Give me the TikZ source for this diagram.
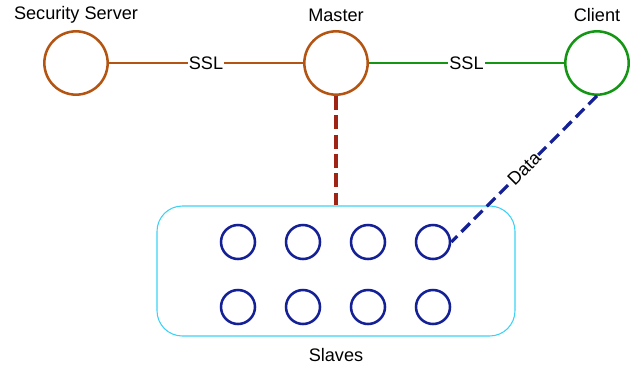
\documentclass[tikz,border=0pt]{standalone}
\usepackage{fontspec}
\setmainfont{Liberation Sans}
\definecolor{brn}{RGB}{180,84,18}
\definecolor{grn}{RGB}{20,150,20}
\definecolor{drd}{RGB}{160,36,22}
\definecolor{nvy}{RGB}{20,32,150}
\definecolor{cyn}{RGB}{60,210,245}
\tikzset{
  big/.style={circle,draw,line width=1.9pt,minimum size=47.5pt,inner sep=0pt},
  small/.style={circle,draw=nvy,line width=1.9pt,minimum size=25.5pt,inner sep=0pt},
  lbl/.style={font=\fontsize{13.6pt}{16pt}\selectfont,inner sep=1pt},
  conn/.style={line width=1pt},
  dsh/.style={line width=2.4pt,dash pattern=on 10.5pt off 4pt}
}
\begin{document}
\begin{tikzpicture}[x=0.75pt,y=-0.75pt]
\useasboundingbox (0,0) rectangle (635,368);
\node[big,draw=brn] (ss) at (76,63) {};
\node[big,draw=brn] (ms) at (336,63) {};
\node[big,draw=grn] (cl) at (597,63) {};
\node[lbl] (tss) at (76,15) {Security Server};
\node[lbl] (tms) at (336,15) {Master};
\node[lbl] (tcl) at (597,15) {Client};
\node[draw=cyn,line width=0.8pt,rounded corners=19pt,minimum width=268.5pt,minimum height=97.5pt] (box) at (336,271) {};
\node[lbl] (tsl) at (336,355) {Slaves};
\foreach \i/\x in {1/238,2/303,3/368,4/433}{
  \node[small] (a\i) at (\x,242) {};
  \node[small] (b\i) at (\x,307) {};
}
\draw[conn,brn] (ss) -- node[lbl,fill=white,text=black] {SSL} (ms);
\draw[conn,grn] (ms) -- node[lbl,fill=white,text=black] {SSL} (cl);
\draw[dsh,drd] (ms.south) -- (box.north);
\draw[dsh,nvy,dash pattern=on 9pt off 4.5pt] (cl.south) -- node[lbl,fill=white,text=black,sloped,inner sep=0.5pt] {Data} (a4.east);
\end{tikzpicture}
\end{document}
